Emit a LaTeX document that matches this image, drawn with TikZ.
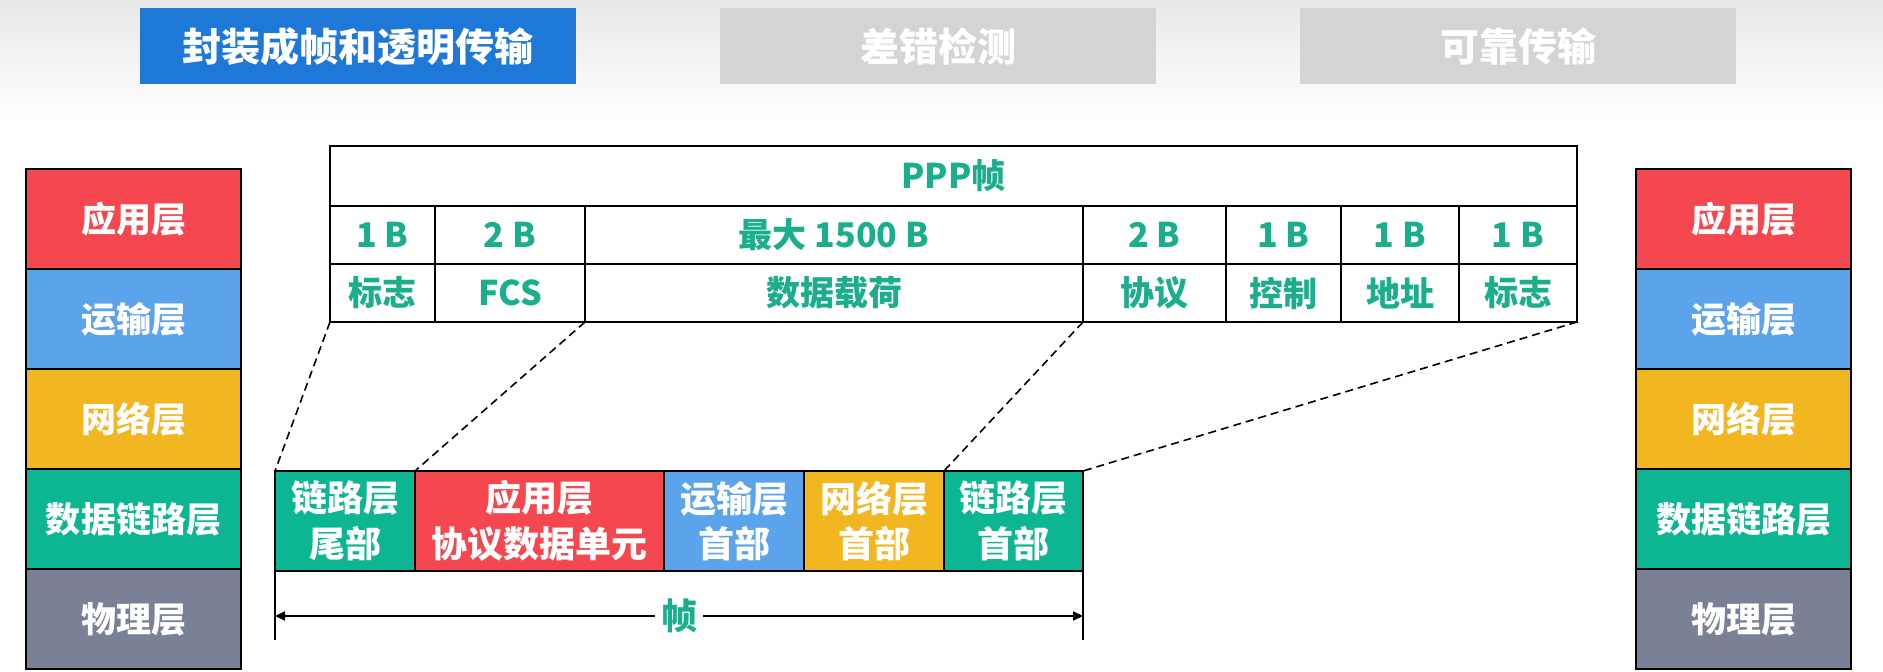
\documentclass[tikz,border=0pt]{standalone}
\usepackage{fontspec}
\setmainfont{Noto Sans CJK SC}
\usetikzlibrary{arrows.meta,positioning}

\definecolor{tabblue}{HTML}{1E78D7}
\definecolor{tabgray}{HTML}{D4D4D6}
\definecolor{appred}{HTML}{F5474F}
\definecolor{transblue}{HTML}{5BA3EA}
\definecolor{netyellow}{HTML}{F2B620}
\definecolor{linkgreen}{HTML}{0DB693}
\definecolor{phygray}{HTML}{7A8196}
\definecolor{tealtext}{HTML}{1AAE8C}

\newdimen\px \px=0.5pt

\begin{document}
\begin{tikzpicture}[
    x=0.5pt, y=-0.5pt,
    tab/.style={rectangle, minimum width=436\px, minimum height=76\px, inner sep=0pt, text=white, font=\fontsize{19.5}{23}\selectfont\bfseries},
    layer/.style={rectangle, draw=black, line width=1.2pt, minimum width=215\px, minimum height=100\px, outer sep=0pt, text=white, font=\fontsize{17.5}{21}\selectfont\bfseries},
    cell/.style={rectangle, draw=black, line width=0.8pt, minimum height=58\px, inner sep=0pt, outer sep=0pt, text=tealtext, font=\fontsize{17}{20}\selectfont\bfseries},
    part/.style={rectangle, draw=black, line width=1pt, minimum height=100\px, inner sep=0pt, outer sep=0pt, align=center, text=white, font=\fontsize{18}{22.8}\selectfont\bfseries},
    zoomline/.style={dashed, line width=0.8pt, dash pattern=on 4pt off 2.5pt},
    dim/.style={{Triangle[length=5pt, width=4.5pt]}-{Triangle[length=5pt, width=4.5pt]}, line width=1pt}
]

% page and top gradient
\fill[white] (0,0) rectangle (1883,672);
\useasboundingbox (0,0) rectangle (1883,672);
\shade[top color=black!9, bottom color=white] (0,0) rectangle (1883,120);

% Tabs
\node[tab, fill=tabblue, anchor=north west] (tabframe) at (140,8) {封装成帧和透明传输};
\node[tab, fill=tabgray, anchor=north west] (tabcheck) at (720,8) {差错检测};
\node[tab, fill=tabgray, anchor=north west] (tabrel) at (1300,8) {可靠传输};

% Layer stacks (left and right)
\foreach \side/\xx in {L/26, R/1636} {
    \node[layer, fill=appred, anchor=north west] (app\side) at (\xx,169) {应用层};
    \node[layer, fill=transblue, below=0pt of app\side] (trans\side) {运输层};
    \node[layer, fill=netyellow, below=0pt of trans\side] (net\side) {网络层};
    \node[layer, fill=linkgreen, below=0pt of net\side] (link\side) {数据链路层};
    \node[layer, fill=phygray, below=0pt of link\side] (phy\side) {物理层};
}

% PPP frame table
\node[cell, minimum width=1247\px, minimum height=60\px, anchor=north west] (ppp) at (330,146) {PPP帧};

\node[cell, minimum width=105\px, anchor=north west] (f1a) at (ppp.south west) {1 B};
\node[cell, minimum width=150\px, right=0pt of f1a] (f2a) {2 B};
\node[cell, minimum width=498\px, right=0pt of f2a] (f3a) {最大 1500 B};
\node[cell, minimum width=143\px, right=0pt of f3a] (f4a) {2 B};
\node[cell, minimum width=115\px, right=0pt of f4a] (f5a) {1 B};
\node[cell, minimum width=118\px, right=0pt of f5a] (f6a) {1 B};
\node[cell, minimum width=118\px, right=0pt of f6a] (f7a) {1 B};

\node[cell, minimum width=105\px, below=0pt of f1a] (f1b) {标志};
\node[cell, minimum width=150\px, below=0pt of f2a] (f2b) {FCS};
\node[cell, minimum width=498\px, below=0pt of f3a] (f3b) {数据载荷};
\node[cell, minimum width=143\px, below=0pt of f4a] (f4b) {协议};
\node[cell, minimum width=115\px, below=0pt of f5a] (f5b) {控制};
\node[cell, minimum width=118\px, below=0pt of f6a] (f6b) {地址};
\node[cell, minimum width=118\px, below=0pt of f7a] (f7b) {标志};

% Encapsulated frame
\node[part, fill=linkgreen, minimum width=140\px, anchor=north west] (tail) at (275,471) {链路层\\尾部};
\node[part, fill=appred, minimum width=249\px, right=0pt of tail] (pdu) {应用层\\协议数据单元};
\node[part, fill=transblue, minimum width=140\px, right=0pt of pdu] (th) {运输层\\首部};
\node[part, fill=netyellow, minimum width=140\px, right=0pt of th] (nh) {网络层\\首部};
\node[part, fill=linkgreen, minimum width=139\px, right=0pt of nh] (lh) {链路层\\首部};

% Zoom lines
\draw[zoomline] (f1b.south west) -- (tail.north west);
\draw[zoomline] (f2b.south east) -- (pdu.north west);
\draw[zoomline] (f3b.south east) -- (lh.north west);
\draw[zoomline] (f7b.south east) -- (lh.north east);

% Frame extent
\draw[line width=1pt] (tail.south west) -- ++(0,69);
\draw[line width=1pt] (lh.south east) -- ++(0,69);
\path (tail.south west) ++(0,45) coordinate (al);
\path (lh.south east) ++(0,45) coordinate (ar);
\draw[dim] (al) -- (ar) node[midway, fill=white, inner sep=3pt, text=tealtext, font=\fontsize{18}{22}\selectfont\bfseries] (framelbl) {帧};

\end{tikzpicture}
\end{document}
